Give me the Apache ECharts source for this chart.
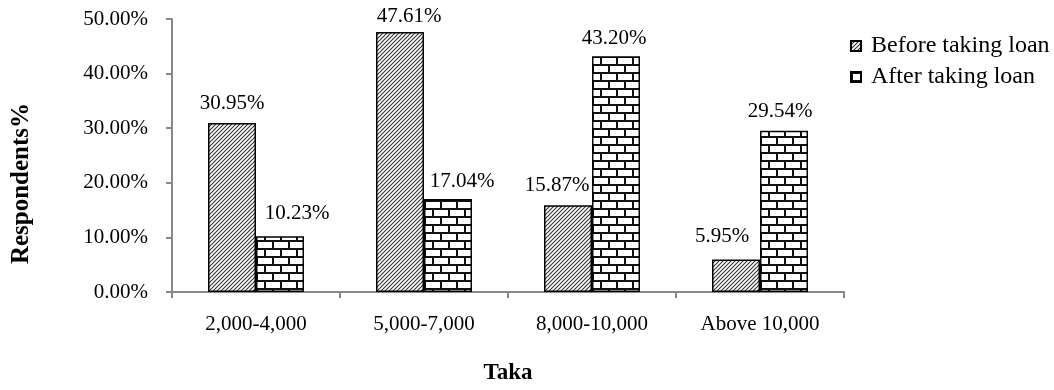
<!DOCTYPE html>
<html>
<head>
<meta charset="utf-8">
<script src="https://cdn.jsdelivr.net/npm/echarts@6/dist/echarts.min.js"></script>
<style>
  html, body { margin: 0; padding: 0; background: #fff; }
  #chart { width: 1054px; height: 390px; }
</style>
</head>
<body>
<div id="chart"></div>
<script>
// Monthly income ranges (Taka) and share of respondents
const categories = ['2,000-4,000', '5,000-7,000', '8,000-10,000', 'Above 10,000'];
const beforeLoan = [30.95, 47.61, 15.87, 5.95];
const afterLoan = [10.23, 17.04, 43.20, 29.54];
const yTicks = [0, 10, 20, 30, 40, 50];

// Hand-placed label nudges [dx, dy] in pixels
const beforeNudge = [[0, -9], [9, -5], [-11, -9], [-14, -13]];
const afterNudge = [[17, -12], [14, -7], [-2, -7], [-4, -9]];

const FONT = '"Liberation Serif", "Times New Roman", serif';

// Diagonal hatch fill
function hatchPattern() {
  const s = 4;
  const c = document.createElement('canvas');
  c.width = s; c.height = s;
  const g = c.getContext('2d');
  g.fillStyle = '#fff';
  g.fillRect(0, 0, s, s);
  g.strokeStyle = '#333';
  g.lineWidth = 1.1;
  g.beginPath();
  g.moveTo(-1, s + 1); g.lineTo(s + 1, -1);
  g.moveTo(-1, 1); g.lineTo(1, -1);
  g.moveTo(s - 1, s + 1); g.lineTo(s + 1, s - 1);
  g.stroke();
  return c;
}

// Brick wall fill
function brickPattern() {
  const w = 16, h = 16, m = 2;
  const c = document.createElement('canvas');
  c.width = w; c.height = h;
  const g = c.getContext('2d');
  g.fillStyle = '#fff';
  g.fillRect(0, 0, w, h);
  g.fillStyle = '#111';
  g.fillRect(0, 0, w, m);
  g.fillRect(0, h / 2, w, m);
  g.fillRect(0, 0, m, h / 2);
  g.fillRect(w / 2, h / 2, m, h / 2);
  return c;
}

function buildData(values, nudges) {
  return values.map((v, i) => ({
    value: v,
    label: { offset: nudges[i] }
  }));
}

const chart = echarts.init(document.getElementById('chart'), null, { renderer: 'canvas' });

const labelStyle = {
  show: true,
  position: 'top',
  distance: 0,
  fontFamily: FONT,
  fontSize: 21,
  color: '#000',
  formatter: p => p.value.toFixed(2) + '%'
};

chart.setOption({
  animation: false,
  backgroundColor: '#fff',
  textStyle: { fontFamily: FONT },
  grid: { left: 172, right: 210, top: 19, bottom: 96 },
  legend: {
    orient: 'vertical',
    left: 845,
    top: 29,
    itemWidth: 10,
    itemHeight: 10,
    itemGap: 7,
    icon: 'rect',
    textStyle: { fontFamily: FONT, fontSize: 24, color: '#000', padding: [0, 0, 0, 5] },
    data: ['Before taking loan', 'After taking loan']
  },
  xAxis: {
    type: 'category',
    data: categories,
    name: 'Taka',
    nameLocation: 'middle',
    nameGap: 70,
    nameTextStyle: { fontFamily: FONT, fontSize: 23, fontWeight: 'bold', color: '#000' },
    axisLine: { lineStyle: { color: '#888', width: 2 } },
    axisTick: { show: true, length: 6, lineStyle: { color: '#888', width: 2 } },
    axisLabel: { fontFamily: FONT, fontSize: 21, color: '#000', margin: 22 }
  },
  yAxis: {
    type: 'value',
    min: yTicks[0],
    max: yTicks[yTicks.length - 1],
    interval: 10,
    name: 'Respondents%',
    nameLocation: 'middle',
    nameGap: 138,
    nameTextStyle: { fontFamily: FONT, fontSize: 25, fontWeight: 'bold', color: '#000', padding: [0, 56, 0, 0] },
    axisLine: { show: true, lineStyle: { color: '#888', width: 2 } },
    axisTick: { show: true, length: 6, lineStyle: { color: '#888', width: 2 } },
    splitLine: { show: false },
    axisLabel: {
      fontFamily: FONT, fontSize: 21, color: '#000', margin: 24,
      formatter: v => v.toFixed(2) + '%'
    }
  },
  series: [
    {
      name: 'Before taking loan',
      type: 'bar',
      barWidth: 48,
      barGap: '0%',
      data: buildData(beforeLoan, beforeNudge),
      itemStyle: {
        color: { image: hatchPattern(), repeat: 'repeat' },
        borderColor: '#000',
        borderWidth: 1.5
      },
      label: labelStyle
    },
    {
      name: 'After taking loan',
      type: 'bar',
      barWidth: 48,
      barGap: '0%',
      data: buildData(afterLoan, afterNudge),
      itemStyle: {
        color: { image: brickPattern(), repeat: 'repeat' },
        borderColor: '#000',
        borderWidth: 1.5
      },
      label: labelStyle
    }
  ]
});
</script>
</body>
</html>
